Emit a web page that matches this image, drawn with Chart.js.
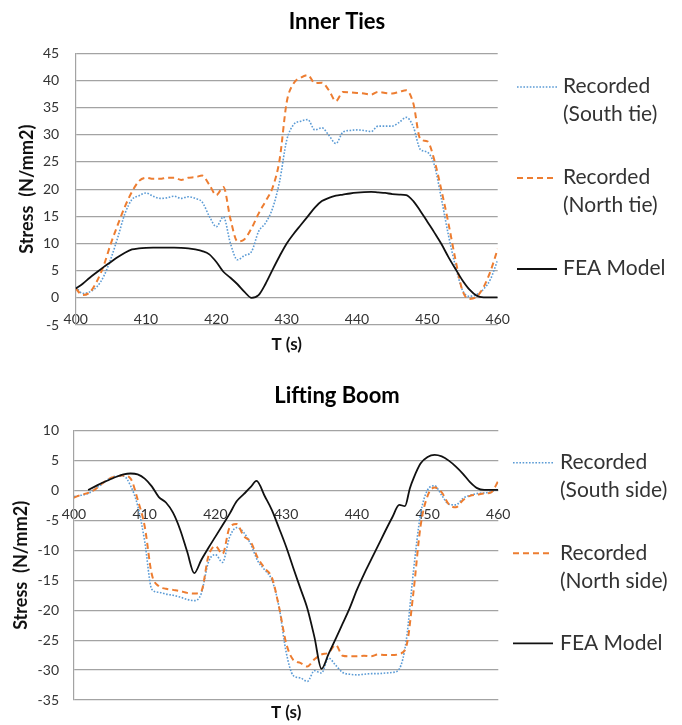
<!DOCTYPE html>
<html>
<head>
<meta charset="utf-8">
<script src="https://cdn.jsdelivr.net/npm/chart.js@4.4.1/dist/chart.umd.min.js"></script>
<style>
  html, body { margin: 0; padding: 0; background: #ffffff; }
  #wrap { position: relative; width: 682px; height: 725px; }
  #ties { position: absolute; left: 0; top: 0; }
  #boom { position: absolute; left: 0; top: 365px; }
</style>
</head>
<body>
<div id="wrap">
  <canvas id="ties" width="682" height="365"></canvas>
  <canvas id="boom" width="682" height="360"></canvas>
</div>
<script>
// Time axis (s) shared by the recorded series
const seconds = [400, 401, 402, 403, 404, 405, 406, 407, 408, 409, 410, 411, 412, 413, 414, 415, 416, 417, 418, 419,
  420, 421, 422, 423, 424, 425, 426, 427, 428, 429, 430, 431, 432, 433, 434, 435, 436, 437, 438, 439,
  440, 441, 442, 443, 444, 445, 446, 447, 448, 449, 450, 451, 452, 453, 454, 455, 456, 457, 458, 459, 460];

// Inner ties stress (N/mm2)
const tiesSouth = [2.0, 0.8, 1.1, 2.0, 4.0, 7.2, 11.2, 15.5, 18.1, 18.8, 19.3, 18.7, 18.3, 18.4, 18.7, 18.3, 18.6, 18.3, 17.6, 15.0,
  13.1, 14.9, 10.0, 7.0, 7.8, 8.5, 12.2, 13.8, 16.5, 21.5, 29.0, 31.9, 32.5, 32.8, 30.9, 31.3, 29.9, 28.4, 30.5, 30.8,
  30.9, 30.8, 30.6, 31.6, 31.6, 31.6, 32.3, 33.2, 31.5, 27.3, 26.8, 24.4, 18.2, 11.5, 5.8, 1.4, 0.3, 0.6, 1.6, 3.5, 7.0];
const tiesNorth = [1.7, 0.5, 1.0, 3.0, 6.0, 10.0, 13.5, 16.8, 19.5, 21.5, 22.1, 21.9, 21.9, 22.1, 22.1, 21.7, 22.1, 22.2, 22.5, 20.8,
  18.9, 20.4, 14.5, 10.4, 10.8, 12.8, 15.5, 17.8, 20.3, 25.5, 36.0, 39.5, 40.5, 41.0, 39.5, 39.6, 38.2, 36.2, 37.9, 37.8,
  37.7, 37.6, 37.4, 37.9, 37.7, 37.6, 37.9, 38.2, 35.8, 29.2, 28.8, 25.3, 19.8, 13.7, 7.0, 1.3, -0.2, 0.2, 2.0, 5.0, 9.0];
const tiesFea = [1.7, 2.6, 3.7, 4.7, 5.7, 6.6, 7.5, 8.3, 8.9, 9.1, 9.2, 9.25, 9.25, 9.25, 9.25, 9.2, 9.1, 8.9, 8.6, 8.0,
  6.6, 4.8, 3.7, 2.5, 1.1, 0.0, 0.5, 2.6, 5.2, 7.7, 10.0, 11.8, 13.4, 15.0, 16.6, 17.8, 18.4, 18.8, 19.0, 19.2,
  19.35, 19.45, 19.5, 19.4, 19.3, 19.1, 19.0, 18.9, 17.8, 16.0, 14.0, 12.0, 9.9, 7.5, 5.3, 3.2, 1.5, 0.4, 0.1, 0.1, 0.1];

// Lifting boom stress (N/mm2)
const boomSouth = [-1.0, -0.8, -0.5, 0.3, 1.1, 2.0, 2.4, 2.4, 0.8, -2.5, -8.5, -16.5, -17.0, -17.3, -17.5, -17.8, -18.2, -18.4, -17.2, -12.0,
  -10.7, -12.0, -7.8, -6.2, -7.0, -9.0, -11.8, -13.3, -15.0, -19.5, -27.0, -30.9, -31.3, -31.9, -30.1, -30.5, -28.0, -29.2, -30.4, -30.7,
  -30.8, -30.7, -30.6, -30.6, -30.5, -30.4, -29.8, -24.9, -13.5, -4.0, 0.1, 0.8, -0.8, -2.3, -2.4, -1.3, -0.8, -0.5, -0.4, -0.2, 0.3];
const boomNorth = [-1.2, -0.7, -0.4, 0.2, 1.2, 2.0, 2.4, 2.5, 2.0, -1.5, -6.0, -14.0, -16.0, -16.4, -16.6, -16.8, -17.1, -17.2, -16.8, -11.0,
  -9.3, -10.6, -6.2, -5.6, -7.6, -8.6, -11.3, -13.0, -14.6, -19.5, -25.5, -28.3, -28.8, -29.4, -28.2, -27.4, -27.1, -25.8, -27.6, -27.7,
  -27.7, -27.6, -27.7, -27.4, -27.5, -27.5, -27.3, -26.0, -17.0, -6.0, -0.9, 0.5, -0.3, -2.3, -2.8, -1.6, -0.9, -0.7, -0.5, -0.3, 1.6];
const boomFeaSeconds = [402, 403, 404, 405, 406, 407, 408, 409, 410, 411, 412, 413, 414, 415, 416, 417, 418, 419, 420, 421,
  422, 423, 424, 425, 425.8, 427, 428, 429, 430, 431, 432, 433, 434, 435, 436, 437, 438, 439, 440, 441,
  442, 443, 444, 445, 446, 446.8, 447.5, 448, 449, 450, 451, 452, 453, 454, 455, 456, 457, 458, 459, 460];
const boomFea = [0.1, 0.7, 1.3, 1.8, 2.3, 2.7, 2.85, 2.7, 2.0, 0.7, -1.1, -2.0, -3.7, -6.5, -10.2, -13.8, -11.6, -9.6, -7.7, -5.8,
  -3.9, -1.8, -0.6, 0.6, 1.6, -1.0, -3.3, -6.3, -9.4, -12.9, -16.3, -19.7, -24.5, -29.8, -27.3, -24.8, -22.2, -19.6, -16.6, -14.0,
  -11.6, -9.2, -6.8, -4.5, -2.4, -2.6, 0.4, 2.0, 4.5, 5.6, 5.95, 5.7, 5.0, 4.0, 2.8, 1.4, 0.4, 0.1, 0.1, 0.1];

// Axis tick values
const timeTicks = [400, 410, 420, 430, 440, 450, 460];
const tiesStressTicks = [-5, 0, 5, 10, 15, 20, 25, 30, 35, 40, 45];
const boomStressTicks = [-35, -30, -25, -20, -15, -10, -5, 0, 5, 10];

const BLUE = '#5B9BD5';
const ORANGE = '#ED7D31';
const BLACK = '#111111';
const GRID = '#a3a3a3';
const TEXT = '#333333';

function points(xs, ys) {
  return ys.map((v, i) => ({ x: xs[i], y: v }));
}

// Draws the legend to the right of the plot, one entry per dataset
const sideLegend = {
  id: 'sideLegend',
  afterDraw(chart, args, opts) {
    const ctx = chart.ctx;
    ctx.save();
    opts.rows.forEach((y, i) => {
      const ds = chart.data.datasets[i];
      ctx.beginPath();
      ctx.setLineDash(ds.borderDash || []);
      ctx.lineWidth = ds.borderWidth;
      ctx.strokeStyle = ds.borderColor;
      ctx.moveTo(opts.x0, y);
      ctx.lineTo(opts.x1, y);
      ctx.stroke();
      ctx.setLineDash([]);
      ctx.font = '21px Lato';
      ctx.fillStyle = TEXT;
      ctx.textBaseline = 'middle';
      ctx.textAlign = 'left';
      const lines = Array.isArray(ds.label) ? ds.label : [ds.label];
      lines.forEach((s, k) => ctx.fillText(s, opts.textX, y + opts.textDy + k * opts.lineGap));
    });
    ctx.restore();
  }
};

function series(label, xs, ys, color, dash, width, order) {
  return {
    label: label,
    data: points(xs, ys),
    borderColor: color,
    borderDash: dash,
    borderWidth: width,
    pointRadius: 0,
    cubicInterpolationMode: 'monotone',
    fill: false,
    order: order
  };
}

function makeChart(canvasId, spec) {
  return new Chart(document.getElementById(canvasId), {
    type: 'line',
    data: { datasets: spec.datasets },
    plugins: [sideLegend],
    options: {
      responsive: false,
      animation: false,
      events: [],
      layout: { padding: { left: 0, right: 8, top: 0, bottom: 0 } },
      plugins: {
        legend: { display: false },
        tooltip: { enabled: false },
        title: {
          display: true,
          text: spec.title,
          color: '#000000',
          font: { family: 'Lato', size: 22, weight: 'bold' },
          padding: spec.titlePadding
        },
        sideLegend: spec.legend
      },
      scales: {
        x: {
          type: 'linear',
          position: { y: 0 },
          min: timeTicks[0],
          max: timeTicks[timeTicks.length - 1],
          afterBuildTicks(s) { s.ticks = timeTicks.map(v => ({ value: v })); },
          ticks: { color: TEXT, font: { family: 'Lato', size: 14 }, padding: spec.xTickPad, maxRotation: 0, autoSkip: false },
          grid: { display: false },
          border: { display: false }
        },
        xt: {
          type: 'linear',
          position: 'bottom',
          ticks: { display: false },
          grid: { display: false },
          border: { display: false },
          title: {
            display: true, text: 'T (s)', color: '#111111',
            font: { family: 'Lato', size: 17, weight: 'bold' },
            padding: { top: 0, bottom: spec.xTitlePad }
          },
          afterFit(s) { s.height = spec.xTitleBox; }
        },
        y: {
          type: 'linear',
          position: 'left',
          min: spec.yTicks[0],
          max: spec.yTicks[spec.yTicks.length - 1],
          afterBuildTicks(s) { s.ticks = spec.yTicks.map(v => ({ value: v })); },
          ticks: { color: TEXT, font: { family: 'Lato', size: 14 }, padding: spec.yTickPad },
          grid: { color: GRID, lineWidth: 1.2, drawTicks: false },
          border: { display: true, color: GRID, width: 1.2 },
          title: {
            display: true, text: 'Stress  (N/mm2)', color: '#111111',
            font: { family: 'Lato', size: 18, weight: 'bold' },
            padding: { top: spec.yTitlePad, bottom: 0 }
          },
          afterFit(s) { s.width = spec.yBox; }
        },
        yR: {
          type: 'linear',
          position: 'right',
          ticks: { display: false },
          grid: { display: false },
          border: { display: false },
          afterFit(s) { s.width = spec.rightBox; }
        }
      }
    }
  });
}

function draw() {
  makeChart('ties', {
    title: 'Inner Ties',
    titlePadding: { top: 8.8, bottom: 18.1 },
    yTicks: tiesStressTicks,
    yTickPad: 16.5,
    yBox: 75.7,
    yTitlePad: 16.6,
    rightBox: 176.3,
    xTickPad: 5,
    xTitleBox: 40,
    xTitlePad: 10,
    datasets: [
      series(['Recorded', '(South tie)'], seconds, tiesSouth, BLUE, [1.6, 1.6], 1.6, 2),
      series(['Recorded', '(North tie)'], seconds, tiesNorth, ORANGE, [6, 4], 2, 1),
      series('FEA Model', seconds, tiesFea, BLACK, [], 1.8, 0)
    ],
    legend: { x0: 517, x1: 557, textX: 563, textDy: -1, lineGap: 28, rows: [87, 178, 269] }
  });

  makeChart('boom', {
    title: 'Lifting Boom',
    titlePadding: { top: 17.8, bottom: 21.5 },
    yTicks: boomStressTicks,
    yTickPad: 15,
    yBox: 74,
    yTitlePad: 10.2,
    rightBox: 175.7,
    xTickPad: 8,
    xTitleBox: 25,
    xTitlePad: 2,
    datasets: [
      series(['Recorded', '(South side)'], seconds, boomSouth, BLUE, [1.6, 1.6], 1.6, 2),
      series(['Recorded', '(North side)'], seconds, boomNorth, ORANGE, [6, 4], 2, 1),
      series('FEA Model', boomFeaSeconds, boomFea, BLACK, [], 1.8, 0)
    ],
    legend: { x0: 513, x1: 553, textX: 560, textDy: 0, lineGap: 28, rows: [97.7, 188.3, 278.3] }
  });
}

if (document.fonts && document.fonts.load) {
  Promise.all([
    document.fonts.load('21px Lato'),
    document.fonts.load('bold 22px Lato')
  ]).then(draw, draw);
} else {
  draw();
}
</script>
</body>
</html>
